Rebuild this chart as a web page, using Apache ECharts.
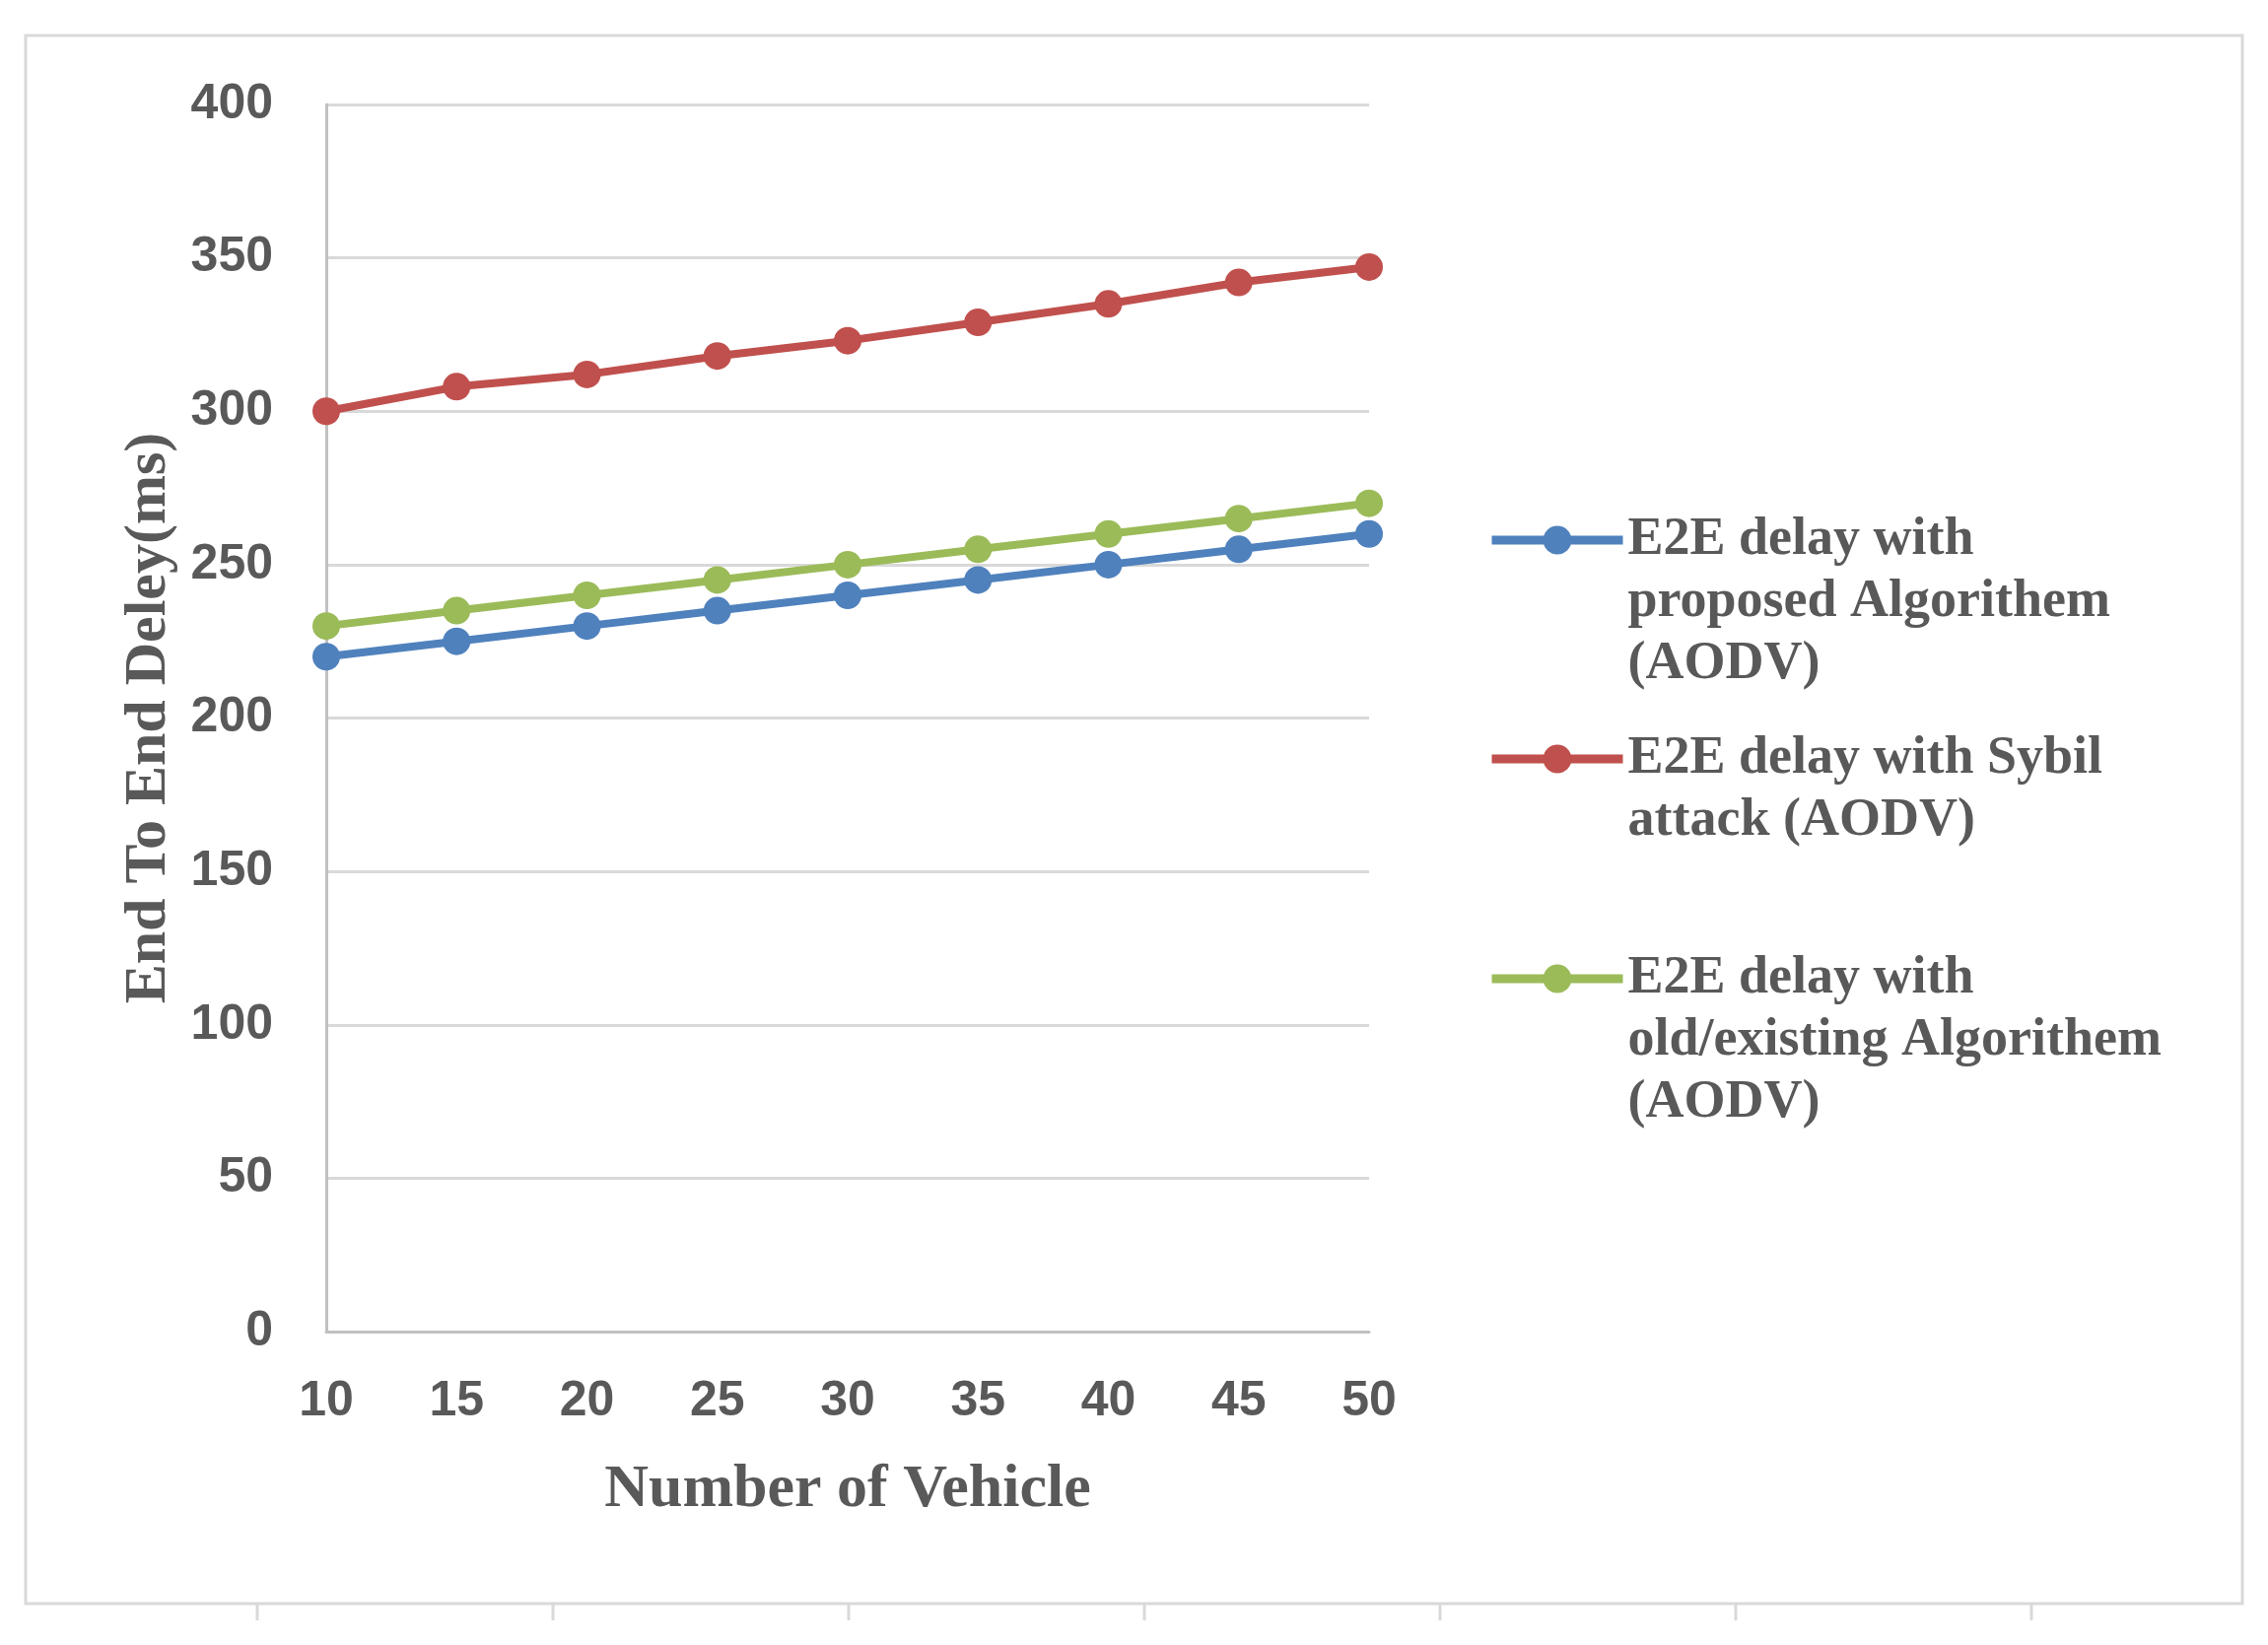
<!DOCTYPE html>
<html>
<head>
<meta charset="utf-8">
<script src="https://cdn.jsdelivr.net/npm/echarts@6/dist/echarts.min.js"></script>
<style>
html,body{margin:0;padding:0;background:#fff;}
#chart{width:2301px;height:1669px;}
</style>
</head>
<body>
<div id="chart"></div>
<script>
const vehicles = ['10','15','20','25','30','35','40','45','50'];
const proposed = [220, 225, 230, 235, 240, 245, 250, 255, 260];
const sybil = [300, 308, 312, 318, 323, 329, 335, 342, 347];
const existing = [230, 235, 240, 245, 250, 255, 260, 265, 270];
const seriesNames = [
  'E2E delay with\nproposed Algorithem\n(AODV)',
  'E2E delay with Sybil\nattack (AODV)',
  'E2E delay with\nold/existing Algorithem\n(AODV)'
];
const colors = ['#4f81bd', '#c0504d', '#9bbb59'];
const xTitle = 'Number of Vehicle';
const yTitle = 'End To End Deley(ms)';

const LH = 63;
const serif = '"Liberation Serif", "Times New Roman", serif';
const sans = '"Liberation Sans", Arial, sans-serif';

function makeLegend(name, iconY) {
  const lines = name.split('\n').length;
  return {
    orient: 'vertical',
    left: 1509,
    top: iconY - (2 * lines - 1) * LH / 2,
    padding: 0,
    itemWidth: 133,
    itemHeight: 36,
    lineStyle: { width: 9 },
    data: [name],
    // blank lines above the name so that its first line sits level with the icon
    formatter: function (n) { return '\n'.repeat(n.split('\n').length - 1) + n; },
    textStyle: {
      fontFamily: serif, fontWeight: 'bold', fontSize: 54,
      lineHeight: LH, color: '#595959'
    }
  };
}

const chart = echarts.init(document.getElementById('chart'), null, { renderer: 'canvas' });
chart.setOption({
  backgroundColor: '#ffffff',
  animation: false,
  color: colors,
  grid: { left: 331, top: 106, right: 912, bottom: 318, containLabel: false },
  legend: [
    makeLegend(seriesNames[0], 548),
    makeLegend(seriesNames[1], 770),
    makeLegend(seriesNames[2], 993)
  ],
  xAxis: {
    type: 'category',
    data: vehicles,
    boundaryGap: false,
    axisLine: { show: true, lineStyle: { color: '#c0c0c0', width: 3 } },
    axisTick: { show: false },
    axisLabel: { margin: 46, fontFamily: sans, fontWeight: 'bold', fontSize: 50, color: '#595959' },
    splitLine: { show: false },
    name: xTitle,
    nameLocation: 'middle',
    nameGap: 130,
    nameTextStyle: { fontFamily: serif, fontWeight: 'bold', fontSize: 62, color: '#595959' }
  },
  yAxis: {
    type: 'value',
    min: 0, max: 400, interval: 50,
    axisLine: { show: true, lineStyle: { color: '#c0c0c0', width: 3 } },
    axisTick: { show: false },
    axisLabel: { margin: 54, fontFamily: sans, fontWeight: 'bold', fontSize: 50, color: '#595959' },
    splitLine: { show: true, lineStyle: { color: '#d9d9d9', width: 3 } },
    name: yTitle,
    nameLocation: 'middle',
    nameRotate: 90,
    nameGap: 150,
    nameTextStyle: { fontFamily: serif, fontWeight: 'bold', fontSize: 60, color: '#595959' }
  },
  series: [
    { name: seriesNames[0], type: 'line', data: proposed, symbol: 'circle', symbolSize: 28,
      lineStyle: { width: 8, color: colors[0] }, itemStyle: { color: colors[0] } },
    { name: seriesNames[1], type: 'line', data: sybil, symbol: 'circle', symbolSize: 28,
      lineStyle: { width: 8, color: colors[1] }, itemStyle: { color: colors[1] } },
    { name: seriesNames[2], type: 'line', data: existing, symbol: 'circle', symbolSize: 28,
      lineStyle: { width: 8, color: colors[2] }, itemStyle: { color: colors[2] } }
  ],
  graphic: [
    { type: 'rect', shape: { x: 26, y: 36, width: 2249, height: 1591 },
      style: { fill: null, stroke: '#d9d9d9', lineWidth: 3 }, silent: true },
    { type: 'line', shape: { x1: 261, y1: 1627, x2: 261, y2: 1644 }, style: { stroke: '#d9d9d9', lineWidth: 3 } },
    { type: 'line', shape: { x1: 561, y1: 1627, x2: 561, y2: 1644 }, style: { stroke: '#d9d9d9', lineWidth: 3 } },
    { type: 'line', shape: { x1: 861, y1: 1627, x2: 861, y2: 1644 }, style: { stroke: '#d9d9d9', lineWidth: 3 } },
    { type: 'line', shape: { x1: 1161, y1: 1627, x2: 1161, y2: 1644 }, style: { stroke: '#d9d9d9', lineWidth: 3 } },
    { type: 'line', shape: { x1: 1461, y1: 1627, x2: 1461, y2: 1644 }, style: { stroke: '#d9d9d9', lineWidth: 3 } },
    { type: 'line', shape: { x1: 1761, y1: 1627, x2: 1761, y2: 1644 }, style: { stroke: '#d9d9d9', lineWidth: 3 } },
    { type: 'line', shape: { x1: 2061, y1: 1627, x2: 2061, y2: 1644 }, style: { stroke: '#d9d9d9', lineWidth: 3 } }
  ]
});
</script>
</body>
</html>
